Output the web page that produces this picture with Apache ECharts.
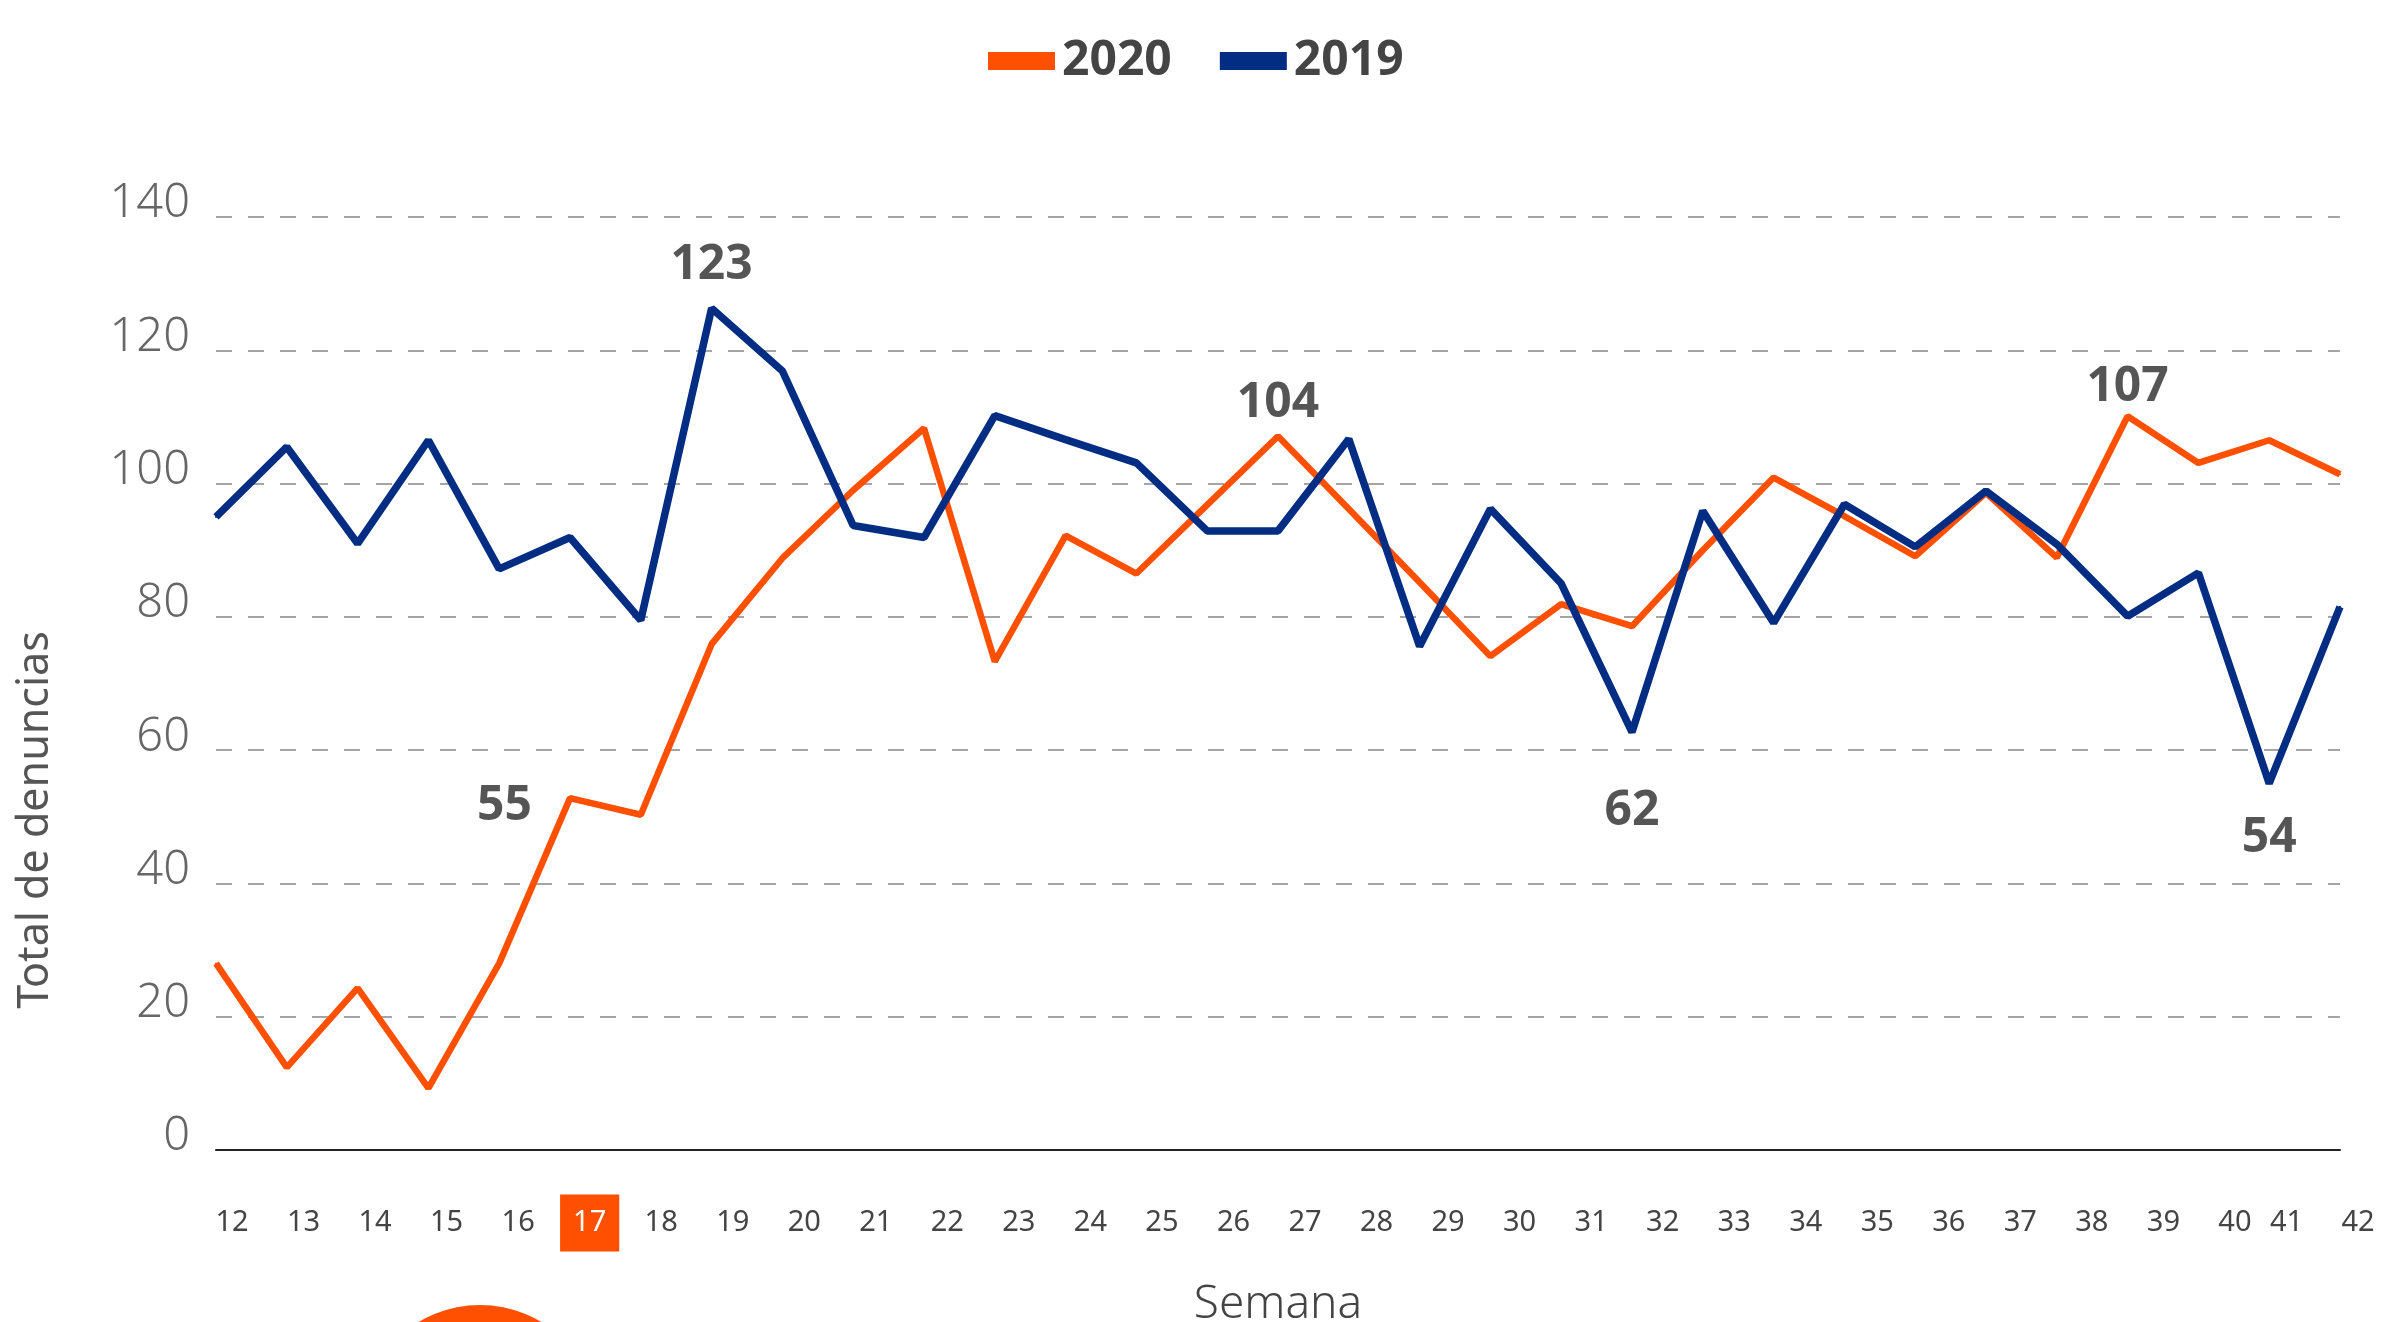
<!DOCTYPE html>
<html><head><meta charset="utf-8">
<script src="https://cdn.jsdelivr.net/npm/echarts@6/dist/echarts.min.js"></script>
<style>html,body{margin:0;padding:0;background:#fff}#c{width:2381px;height:1322px}</style>
</head><body><div id="c"></div>
<script>
// ---- data ----
const weeks = ['12','13','14','15','16','17','18','19','20','21','22','23','24','25','26','27','28','29','30','31','32','33','34','35','36','37','38','39','40','41','42'];
const v2020 = [28.0,12.4,24.3,9.3,28.0,52.8,50.3,75.9,88.8,99.0,108.3,73.3,92.2,86.5,96.8,107.1,96.2,85.2,74.1,81.9,78.6,90.0,100.9,95.1,89.1,98.6,88.9,110.1,103.1,106.5,101.4];
const v2019 = [95.0,105.5,91.0,106.5,87.2,91.9,79.5,126.3,116.9,93.7,91.9,110.2,106.6,103.1,92.9,92.9,106.7,75.6,96.2,85.0,62.7,95.9,79.1,96.9,90.5,98.9,90.9,80.1,86.6,55.0,81.5];
const seriesNames = ['2020','2019'];
const highlightWeek = '17';
// annotations: [index, text]
const notes2020 = [[5,'55'],[15,'104'],[27,'107']];
const notes2019 = [[7,'123'],[20,'62'],[29,'54']];

// ---- styles ----
const ORANGE = '#FF4F00', BLUE = '#022D83';
const FONT = '"Noto Sans", "Open Sans", sans-serif';
const noteStyle = {
  '55': {position:'left', distance:37, offset:[0,8]},
  '104': {position:'top', distance:8},
  '107': {position:'top', distance:4},
  '123': {position:'top', distance:18},
  '62': {position:'bottom', distance:54},
  '54': {position:'bottom', distance:30}
};
function withNotes(vals, notes, color){
  const m = new Map(notes);
  return vals.map((v,i)=>{
    if(!m.has(i)) return v;
    const t = m.get(i);
    const item = {value:v, label:Object.assign({show:true, formatter:t, fontFamily:FONT, fontSize:48, fontWeight:'bold', color:'#555'}, noteStyle[t])};
    if(t === '123') item.labelLine = {show:true, lineStyle:{color:color, width:2}};
    return item;
  });
}

const chart = echarts.init(document.getElementById('c'), null, {renderer:'canvas'});
chart.setOption({
  animation:false,
  backgroundColor:'#fff',
  textStyle:{fontFamily:FONT},
  legend:{
    data:seriesNames, left:983, top:32, itemWidth:67, itemHeight:18, itemGap:48, icon:'rect',
    textStyle:{fontFamily:FONT, fontSize:48, fontWeight:'bold', color:'#444', padding:[0,0,0,2]}
  },
  grid:[
    {left:216, right:41, top:217, bottom:172, containLabel:false, outerBoundsMode:'none'},
    {left:232, right:3, top:217, bottom:172, containLabel:false, outerBoundsMode:'none'}
  ],
  xAxis:[
    {type:'category', gridIndex:0, data:weeks, boundaryGap:false,
     axisLine:{show:true, lineStyle:{color:'#222', width:2}}, axisTick:{show:false}, axisLabel:{show:false},
     splitLine:{show:false},
     name:'Semana', nameLocation:'middle', nameGap:132,
     nameTextStyle:{fontFamily:FONT, fontSize:46, color:'#444', fontWeight:300}},
    {type:'category', gridIndex:1, data:weeks, boundaryGap:false,
     axisLine:{show:false}, axisTick:{show:false}, splitLine:{show:false},
     axisLabel:{interval:0, margin:73, verticalAlign:'middle', fontFamily:FONT, fontSize:29, color:'#444',
       formatter:(v)=> v===highlightWeek ? '{hl|'+v+'}' : (v==='41'||v==='42') ? '{sq|'+v+'}' : v,
       rich:{
         hl:{backgroundColor:ORANGE, color:'#fff', fontSize:29, fontFamily:FONT, padding:[14,13,14,13]},
         sq:{fontSize:29, fontFamily:FONT, color:'#444', padding:[0,40,0,0]}
       }}}
  ],
  yAxis:[
    {type:'value', gridIndex:0, min:0, max:140, interval:20,
     axisLine:{show:false}, axisTick:{show:false},
     axisLabel:{margin:26, fontFamily:FONT, fontSize:47, fontWeight:300, color:'#666', verticalAlign:'bottom', lineHeight:26},
     splitLine:{show:true, lineStyle:{color:'#8f8f8f', width:1.6, type:[16,16]}}},
    {type:'value', gridIndex:1, min:0, max:140, show:false}
  ],
  series:[
    {name:'2020', type:'line', xAxisIndex:0, yAxisIndex:0, data:withNotes(v2020, notes2020, ORANGE),
     symbol:'circle', symbolSize:2, showSymbol:true, color:ORANGE,
     lineStyle:{color:ORANGE, width:6.5}, itemStyle:{color:ORANGE}, z:2},
    {name:'2019', type:'line', xAxisIndex:0, yAxisIndex:0, data:withNotes(v2019, notes2019, BLUE),
     symbol:'circle', symbolSize:2, showSymbol:true, color:BLUE,
     lineStyle:{color:BLUE, width:7.5}, itemStyle:{color:BLUE}, z:3}
  ],
  graphic:[
    {type:'text', x:36, y:820, rotation:Math.PI/2,
     style:{text:'Total de denuncias', font:'43px "Noto Sans", sans-serif', fill:'#555', align:'center', verticalAlign:'middle'}},
    {type:'circle', shape:{cx:480, cy:1424, r:119}, style:{fill:ORANGE}}
  ]
});
</script></body></html>
